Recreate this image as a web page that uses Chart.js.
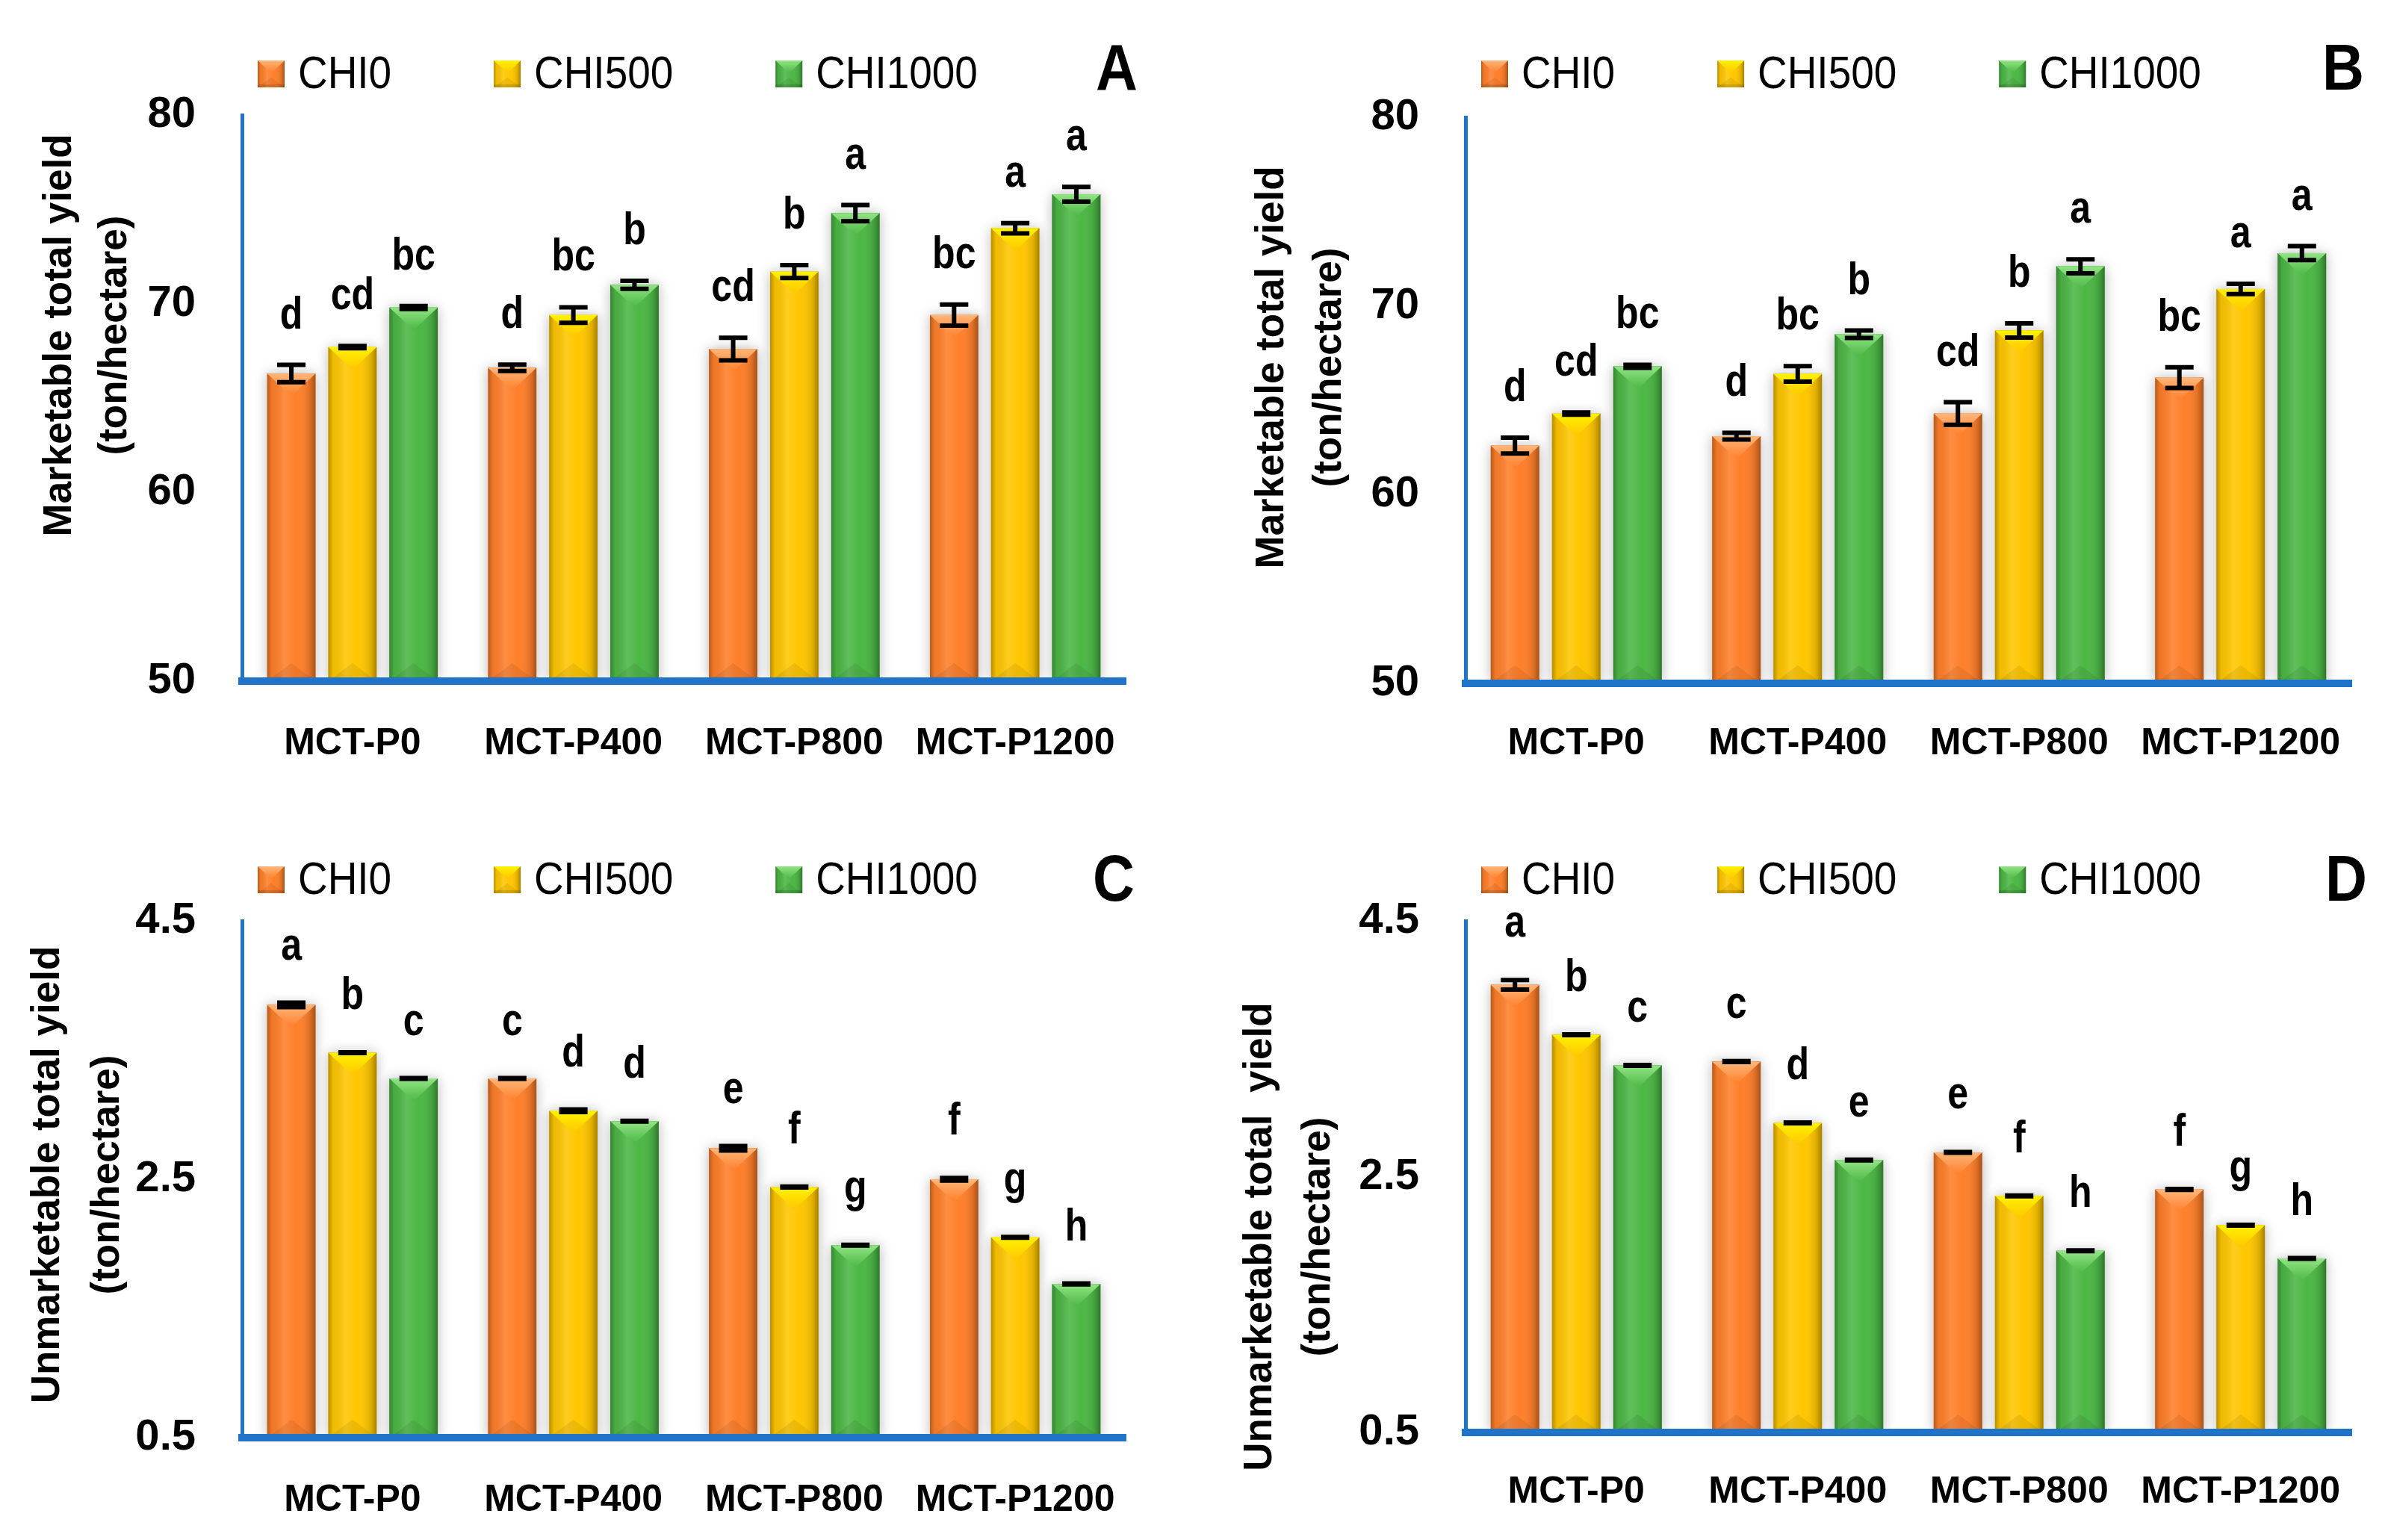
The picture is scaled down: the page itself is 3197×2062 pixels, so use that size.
<!DOCTYPE html>
<html><head><meta charset="utf-8">
<script src="https://cdn.jsdelivr.net/npm/chart.js@4.4.1/dist/chart.umd.min.js"></script>
<style>
html,body{margin:0;padding:0;background:#fff;width:3197px;height:2062px;overflow:hidden;}
canvas{position:absolute;}
</style></head><body>
<canvas id="cA" width="1598" height="1031" style="left:0;top:0;width:1598px;height:1031px"></canvas>
<canvas id="cB" width="1597" height="1031" style="left:1600px;top:0;width:1597px;height:1031px"></canvas>
<canvas id="cC" width="1598" height="1031" style="left:0;top:1031px;width:1598px;height:1031px"></canvas>
<canvas id="cD" width="1597" height="1031" style="left:1600px;top:1031px;width:1597px;height:1031px"></canvas>
<script>
// ---------- data ----------
const categories = ['MCT-P0', 'MCT-P400', 'MCT-P800', 'MCT-P1200'];
const seriesLabels = ['CHI0', 'CHI500', 'CHI1000'];

// Panel A – marketable total yield
const A_CHI0    = [66.3, 66.6, 67.6, 69.4];
const A_CHI500  = [67.7, 69.4, 71.7, 74.0];
const A_CHI1000 = [69.8, 71.0, 74.8, 75.8];
const A_err_CHI0    = [0.46, 0.17, 0.60, 0.56];
const A_err_CHI500  = [0.06, 0.41, 0.34, 0.27];
const A_err_CHI1000 = [0.08, 0.21, 0.43, 0.39];
const A_sig_CHI0    = ['d', 'd', 'cd', 'bc'];
const A_sig_CHI500  = ['cd', 'bc', 'b', 'a'];
const A_sig_CHI1000 = ['bc', 'b', 'a', 'a'];

// Panel B – marketable total yield
const B_CHI0    = [62.6, 63.1, 64.3, 66.2];
const B_CHI500  = [64.3, 66.4, 68.7, 70.9];
const B_CHI1000 = [66.8, 68.5, 72.1, 72.8];
const B_err_CHI0    = [0.42, 0.18, 0.60, 0.55];
const B_err_CHI500  = [0.06, 0.41, 0.38, 0.27];
const B_err_CHI1000 = [0.08, 0.20, 0.37, 0.37];
const B_sig_CHI0    = ['d', 'd', 'cd', 'bc'];
const B_sig_CHI500  = ['cd', 'bc', 'b', 'a'];
const B_sig_CHI1000 = ['bc', 'b', 'a', 'a'];

// Panel C – unmarketable total yield
const C_CHI0    = [3.85, 3.28, 2.74, 2.50];
const C_CHI500  = [3.48, 3.03, 2.44, 2.05];
const C_CHI1000 = [3.28, 2.95, 1.99, 1.69];
const C_err_CHI0    = [0.017, 0.003, 0.017, 0.010];
const C_err_CHI500  = [0.003, 0.010, 0.003, 0.003];
const C_err_CHI1000 = [0.003, 0.003, 0.003, 0.003];
const C_sig_CHI0    = ['a', 'c', 'e', 'f'];
const C_sig_CHI500  = ['b', 'd', 'f', 'g'];
const C_sig_CHI1000 = ['c', 'd', 'g', 'h'];

// Panel D – unmarketable total yield
const D_CHI0    = [4.00, 3.40, 2.69, 2.40];
const D_CHI500  = [3.61, 2.92, 2.35, 2.12];
const D_CHI1000 = [3.37, 2.63, 1.92, 1.86];
const D_err_CHI0    = [0.037, 0.003, 0.003, 0.003];
const D_err_CHI500  = [0.003, 0.003, 0.003, 0.003];
const D_err_CHI1000 = [0.003, 0.003, 0.003, 0.003];
const D_sig_CHI0    = ['a', 'c', 'e', 'f'];
const D_sig_CHI500  = ['b', 'd', 'f', 'g'];
const D_sig_CHI1000 = ['c', 'e', 'h', 'h'];

const ticksMarketable = [50, 60, 70, 80];
const ticksUnmarketable = [0.5, 2.5, 4.5];

// ---------- styles ----------
const FONT = '"Liberation Sans", Arial, sans-serif';
const AXIS = '#1F73C8';
const BASE = ['#FF7F2A', '#FFC600', '#4CB745'];
const HIGH = ['#FFB67A', '#FFF200', '#92E484'];

const panels = [
  {id:'cA', W:1598, letter:'A', title:['Marketable total yield','(ton/hectare)'],
   vals:[A_CHI0,A_CHI500,A_CHI1000], errs:[A_err_CHI0,A_err_CHI500,A_err_CHI1000], sig:[A_sig_CHI0,A_sig_CHI500,A_sig_CHI1000],
   ticks:ticksMarketable, min:50, max:80, dec:0,
   area:{left:324,right:1507,top:154,bottom:912}, titleX:[80,154], titleY:449,
   legendX:345, legendY:99, letterX:1495, letterY:96, gap:49, xpad:54},
  {id:'cB', W:1597, letter:'B', title:['Marketable total yield','(ton/hectare)'],
   vals:[B_CHI0,B_CHI500,B_CHI1000], errs:[B_err_CHI0,B_err_CHI500,B_err_CHI1000], sig:[B_sig_CHI0,B_sig_CHI500,B_sig_CHI1000],
   ticks:ticksMarketable, min:50, max:80, dec:0,
   area:{left:362,right:1548,top:157,bottom:915}, titleX:[103,180], titleY:492,
   legendX:383, legendY:99, letterX:1537, letterY:96, gap:49, xpad:51},
  {id:'cC', W:1598, letter:'C', title:['Unmarketable total yield','(ton/hectare)'],
   vals:[C_CHI0,C_CHI500,C_CHI1000], errs:[C_err_CHI0,C_err_CHI500,C_err_CHI1000], sig:[C_sig_CHI0,C_sig_CHI500,C_sig_CHI1000],
   ticks:ticksUnmarketable, min:0.5, max:4.5, dec:1,
   area:{left:324,right:1507,top:202,bottom:894}, titleX:[64,144], titleY:542,
   legendX:345, legendY:147, letterX:1491, letterY:151, gap:58, xpad:54},
  {id:'cD', W:1597, letter:'D', title:['Unmarketable total  yield','(ton/hectare)'],
   vals:[D_CHI0,D_CHI500,D_CHI1000], errs:[D_err_CHI0,D_err_CHI500,D_err_CHI1000], sig:[D_sig_CHI0,D_sig_CHI500,D_sig_CHI1000],
   ticks:ticksUnmarketable, min:0.5, max:4.5, dec:1,
   area:{left:362,right:1548,top:202,bottom:887}, titleX:[87,165], titleY:625,
   legendX:383, legendY:147, letterX:1541, letterY:151, gap:58, xpad:50}
];

const H = 1031;

function drawBox(ctx, s, l, t, w, h, tri) {
  ctx.fillStyle = BASE[s];
  ctx.fillRect(l, t, w, h);
  const g = ctx.createLinearGradient(l, 0, l + w, 0);
  g.addColorStop(0, 'rgba(0,0,0,0.28)');
  g.addColorStop(0.1, 'rgba(0,0,0,0.06)');
  g.addColorStop(0.35, 'rgba(255,255,255,0.12)');
  g.addColorStop(0.6, 'rgba(255,255,255,0)');
  g.addColorStop(0.88, 'rgba(0,0,0,0.12)');
  g.addColorStop(1, 'rgba(0,0,0,0.35)');
  ctx.fillStyle = g;
  ctx.fillRect(l, t, w, h);
  const th = Math.min(tri, h);
  const tg = ctx.createLinearGradient(0, t, 0, t + th);
  tg.addColorStop(0, HIGH[s]);
  tg.addColorStop(1, BASE[s]);
  ctx.fillStyle = tg;
  ctx.beginPath();
  ctx.moveTo(l, t); ctx.lineTo(l + w, t); ctx.lineTo(l + w / 2, t + th); ctx.closePath();
  ctx.fill();
  if (h > tri * 2) {
    ctx.fillStyle = 'rgba(0,0,0,0.07)';
    ctx.beginPath();
    ctx.moveTo(l, t + h); ctx.lineTo(l + w, t + h); ctx.lineTo(l + w / 2, t + h - tri * 0.8); ctx.closePath();
    ctx.fill();
    const bh = Math.max(4, tri * 0.15);
    ctx.fillStyle = 'rgba(0,0,0,0.12)';
    ctx.fillRect(l, t + h - bh, w, bh);
  }
}

// text drawn slightly condensed to mimic the narrow face of the original
function condensedText(ctx, txt, x, y, sx) {
  ctx.save();
  ctx.translate(x, y);
  ctx.scale(sx, 1);
  ctx.fillText(txt, 0, 0);
  ctx.restore();
}

function makeChart(p) {
  const decor = {
    id: 'decor' + p.letter,
    beforeDatasetsDraw(chart) {
      const ctx = chart.ctx;
      ctx.save();
      ctx.shadowColor = 'rgba(0,0,0,0.28)';
      ctx.shadowBlur = 16;
      ctx.shadowOffsetX = 0;
      ctx.shadowOffsetY = 0;
    },
    afterDatasetsDraw(chart) {
      const ctx = chart.ctx;
      ctx.restore();
      const ys = chart.scales.y;
      const ca = chart.chartArea;
      chart.data.datasets.forEach((ds, d) => {
        const meta = chart.getDatasetMeta(d);
        meta.data.forEach((el) => {
          const pr = el.getProps(['x', 'y', 'base', 'width'], true);
          const l = pr.x - pr.width / 2;
          const b = Math.min(pr.base, ca.bottom);
          drawBox(ctx, d, l, pr.y, pr.width, b - pr.y, pr.width * 0.47);
        });
      });
      chart.data.datasets.forEach((ds, d) => {
        const meta = chart.getDatasetMeta(d);
        meta.data.forEach((el, i) => {
          const v = ds.data[i];
          const e = p.errs[d][i];
          const x = el.x;
          const yT = ys.getPixelForValue(v + e);
          const yB = ys.getPixelForValue(v - e);
          ctx.save();
          ctx.strokeStyle = '#000';
          ctx.lineWidth = 6;
          ctx.lineCap = 'butt';
          ctx.beginPath();
          ctx.moveTo(x, yT); ctx.lineTo(x, yB);
          ctx.moveTo(x - 19, yT); ctx.lineTo(x + 19, yT);
          ctx.moveTo(x - 19, yB); ctx.lineTo(x + 19, yB);
          ctx.stroke();
          ctx.fillStyle = '#000';
          ctx.font = 'bold 61px ' + FONT;
          ctx.textAlign = 'center';
          ctx.textBaseline = 'alphabetic';
          condensedText(ctx, p.sig[d][i], x, yT - p.gap, 0.82);
          ctx.restore();
        });
      });
      ctx.save();
      ctx.strokeStyle = AXIS;
      ctx.lineWidth = 10;
      ctx.beginPath();
      ctx.moveTo(ca.left, ca.bottom); ctx.lineTo(ca.right, ca.bottom);
      ctx.stroke();
      ctx.restore();
    },
    afterDraw(chart) {
      const ctx = chart.ctx;
      ctx.save();
      ctx.font = '61px ' + FONT;
      ctx.textBaseline = 'middle';
      ctx.textAlign = 'left';
      let x = p.legendX;
      chart.data.datasets.forEach((ds, d) => {
        drawBox(ctx, d, x, p.legendY - 18, 36, 36, 17);
        ctx.fillStyle = '#000';
        condensedText(ctx, ds.label, x + 54, p.legendY + 2, 0.9);
        x += 54 + ctx.measureText(ds.label).width * 0.9 + 137;
      });
      ctx.font = 'bold 88px ' + FONT;
      ctx.textAlign = 'center';
      condensedText(ctx, p.letter, p.letterX, p.letterY, 0.88);
      ctx.font = 'bold 53px ' + FONT;
      p.title.forEach((t, k) => {
        ctx.save();
        ctx.translate(p.titleX[k], p.titleY);
        ctx.rotate(-Math.PI / 2);
        ctx.textAlign = 'center';
        ctx.textBaseline = 'middle';
        ctx.fillText(t, 0, 0);
        ctx.restore();
      });
      ctx.restore();
    }
  };

  return new Chart(document.getElementById(p.id), {
    type: 'bar',
    data: {
      labels: categories,
      datasets: seriesLabels.map((s, d) => ({
        label: s,
        data: p.vals[d],
        base: p.min,
        backgroundColor: BASE[d],
        borderWidth: 0,
        categoryPercentage: 0.83,
        barPercentage: 0.79
      }))
    },
    options: {
      responsive: false,
      animation: false,
      devicePixelRatio: 1,
      layout: { padding: { left: 0, top: p.area.top, right: p.W - p.area.right, bottom: 0 } },
      plugins: { legend: { display: false }, tooltip: { enabled: false } },
      scales: {
        x: {
          grid: { display: false, drawTicks: false },
          border: { display: true, color: AXIS, width: 10 },
          ticks: { color: '#000', font: { family: FONT, size: 50, weight: 'bold' }, padding: p.xpad, maxRotation: 0, autoSkip: false },
          afterFit(s) { s.height = H - p.area.bottom; }
        },
        y: {
          min: p.min, max: p.max,
          grid: { display: false, drawTicks: false },
          border: { display: true, color: AXIS, width: 5 },
          ticks: { color: '#000', font: { family: FONT, size: 58, weight: 'bold' }, padding: 62,
                   callback: (v) => Number(v).toFixed(p.dec) },
          afterBuildTicks(s) { s.ticks = p.ticks.map(v => ({ value: v })); },
          afterFit(s) { s.width = p.area.left; }
        }
      }
    },
    plugins: [decor]
  });
}

panels.forEach(makeChart);
</script>
</body></html>
